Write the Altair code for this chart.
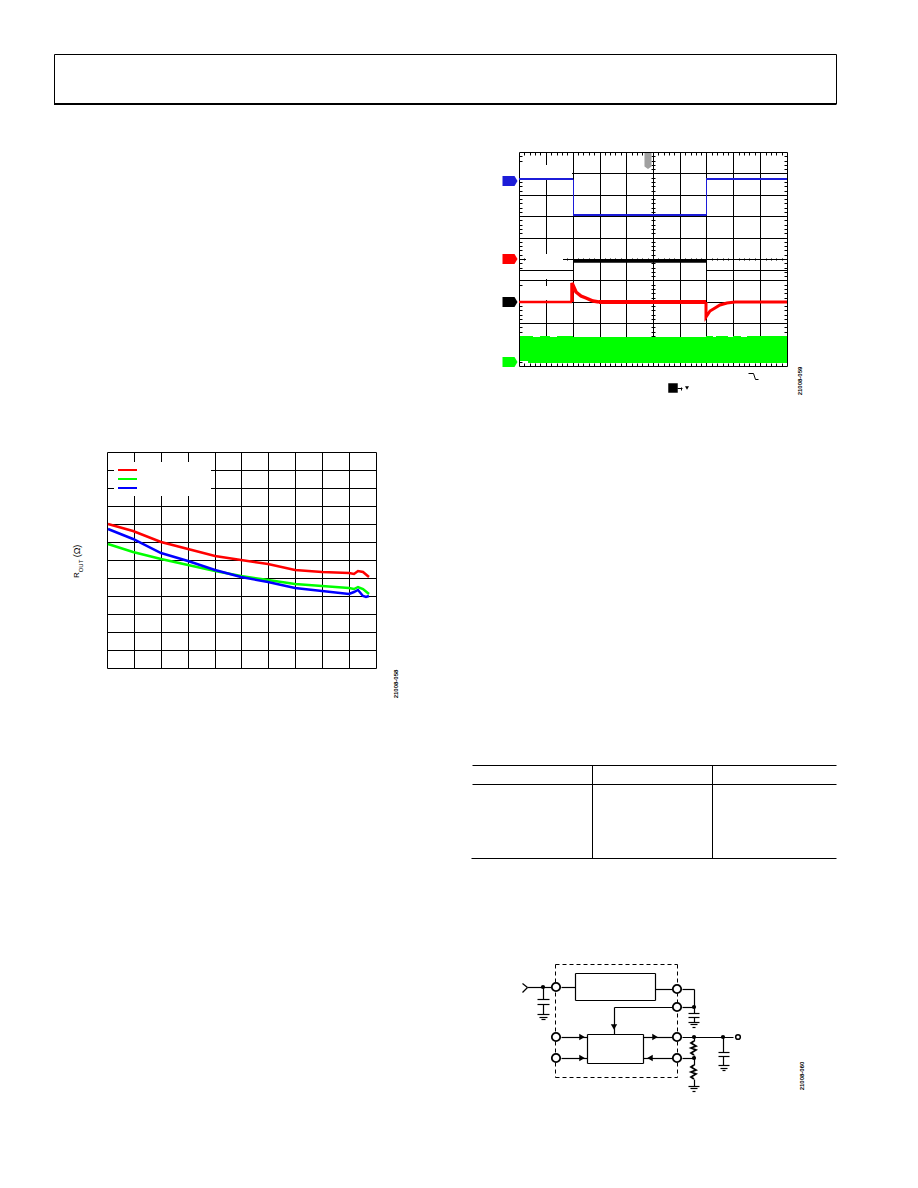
import altair as alt
import pandas as pd

FONT = "Liberation Sans"

# ---- R_OUT line chart values
red_x = [0.04, 0.97, 2.01, 3.01, 4.01, 4.98, 5.99, 6.99, 7.99, 9.0, 9.18, 9.34, 9.52, 9.76]
red_y = [8.0, 7.59, 7.0, 6.61, 6.22, 6.0, 5.76, 5.46, 5.33, 5.30, 5.22, 5.37, 5.31, 5.07]
green_x = [0.04, 0.97, 2.01, 3.01, 4.01, 4.98, 5.99, 6.99, 7.99, 9.0, 9.18, 9.34, 9.52, 9.76]
green_y = [6.91, 6.44, 6.04, 5.70, 5.41, 5.09, 4.89, 4.67, 4.57, 4.43, 4.39, 4.48, 4.37, 4.09]
blue_x = [0.04, 0.97, 2.01, 3.01, 4.01, 4.98, 5.99, 6.99, 7.99, 9.0, 9.18, 9.34, 9.52, 9.64, 9.76]
blue_y = [7.72, 7.17, 6.37, 5.93, 5.43, 5.07, 4.78, 4.44, 4.28, 4.13, 4.24, 4.31, 4.02, 3.93, 4.0]
legend_y = [10.98, 10.48, 10.02]
line_colors = ["#ff0000", "#00ff00", "#0000ff"]

# ---- scope grid and trace values (divisions)
scope_vlines = [0, 1, 2, 3.02, 4, 5, 6, 6.98, 8, 9, 10]
scope_hlines = [0, 1, 2, 3, 4, 5, 6, 7, 8, 9, 10]
blue_high, blue_low = 8.74, 7.06
black_high, black_low = 4.9, 4.47
sc_red_flat_x = [0, 1.99]
sc_red_flat_y = [3.0, 3.0]
sc_red_left_x = [1.99, 1.99, 2.14, 2.32, 2.5, 2.75, 3.0]
sc_red_left_y = [3.0, 3.89, 3.48, 3.28, 3.16, 3.06, 3.0]
sc_red_mid_x = [3.0, 6.98]
sc_red_mid_y = [3.0, 3.0]
sc_red_right_x = [6.98, 6.98, 7.12, 7.3, 7.5, 7.75, 8.06, 10]
sc_red_right_y = [3.0, 2.31, 2.58, 2.73, 2.86, 2.94, 3.0, 3.0]
sc_green_x = [0.04, 0.35, 0.52, 0.77, 1.15, 1.4, 2.0, 6.98, 7.25, 7.35, 7.8, 8.0, 8.3, 8.5, 10]
sc_green_top = [1.40, 1.40, 1.37, 1.40, 1.37, 1.40, 1.37, 1.40, 1.37, 1.40, 1.37, 1.40, 1.37, 1.40, 1.40]
sc_green_bot = [0.23, 0.13, 0.13, 0.13, 0.13, 0.13, 0.13, 0.13, 0.13, 0.13, 0.13, 0.13, 0.13, 0.13, 0.13]

# ---- table column / row rules
table_cols = [1, 2]
table_rows = [0, 1, 5]

# ---- schematic wires, in schematic units
wires = [
    (35, 83, 50, 97), (50, 97, 35, 110), (50, 97, 122, 97),
    (99, 97, 99, 132), (82, 132, 117, 132), (82, 147, 117, 147), (99, 147, 99, 178),
    (82, 178, 117, 178), (88, 185, 110, 185), (94, 192, 104, 192),
    (152, 97, 196, 97), (434, 101, 487, 101), (517, 101, 551, 101), (551, 101, 551, 175),
    (517, 156, 551, 156), (534, 175, 568, 175), (534, 187, 568, 187), (551, 187, 551, 201),
    (534, 201, 568, 201), (540, 208, 562, 208), (546, 215, 556, 215),
    (487, 156, 313, 156), (313, 156, 313, 238),
    (152, 247, 232, 247), (152, 308, 232, 308), (398, 247, 487, 247), (398, 308, 487, 308),
    (517, 247, 670, 247), (517, 308, 551, 308), (551, 247, 551, 258), (551, 300, 551, 330),
    (551, 372, 551, 393), (534, 393, 568, 393), (540, 400, 562, 400), (546, 407, 556, 407),
    (640, 247, 640, 290), (623, 290, 657, 290), (623, 303, 657, 303), (640, 303, 640, 331),
    (623, 331, 657, 331), (629, 338, 651, 338), (635, 345, 645, 345),
    (196, 55, 434, 55), (196, 135, 434, 135), (196, 55, 196, 135), (434, 55, 434, 135),
    (232, 238, 398, 238), (232, 323, 398, 323), (232, 238, 232, 323), (398, 238, 398, 323),
]
dashed_box = [(135, 28, 502, 28), (135, 367, 502, 367), (135, 28, 135, 367), (502, 28, 502, 367)]
res_x = [551, 544, 558, 544, 558, 544, 551]
res_upper_y = [258, 265, 272, 279, 286, 293, 300]
res_lower_y = [330, 337, 344, 351, 358, 365, 372]
pins_x = [137, 502, 502, 137, 137, 502, 502]
pins_y = [97, 101, 156, 247, 308, 247, 308]
dots_x = [99, 551, 551, 640, 551]
dots_y = [97, 156, 247, 247, 308]


def segs(rows, sx, sy, color="black", width=1, dash=None, offset=True):
    df = pd.DataFrame(rows, columns=["a", "b", "a2", "b2"])
    kw = dict(color=color, strokeWidth=width)
    if dash:
        kw["strokeDash"] = dash
    if offset:
        kw.update(xOffset=0.5, x2Offset=0.5, yOffset=0.5, y2Offset=0.5)
    return alt.Chart(df).mark_rule(**kw).encode(
        x=alt.X("a:Q", scale=sx, axis=None), x2="a2:Q",
        y=alt.Y("b:Q", scale=sy, axis=None), y2="b2:Q")


def line(xs, ys, sx, sy, color, width=2.5):
    df = pd.DataFrame({"a": xs, "b": ys})
    return alt.Chart(df).mark_line(color=color, strokeWidth=width, strokeJoin="miter").encode(
        x=alt.X("a:Q", scale=sx, axis=None, sort=None), y=alt.Y("b:Q", scale=sy, axis=None),
        order="i:Q").transform_window(i="row_number()")


def box(rows, sx, sy, color="white"):
    df = pd.DataFrame(rows, columns=["a", "b", "a2", "b2"])
    return alt.Chart(df).mark_rect(color=color, strokeWidth=0).encode(
        x=alt.X("a:Q", scale=sx, axis=None), x2="a2:Q",
        y=alt.Y("b:Q", scale=sy, axis=None), y2="b2:Q")


def label(txt, xv, yv, sx, sy, size=6, angle=270, weight="bold"):
    df = pd.DataFrame({"a": [xv], "b": [yv], "t": [txt]})
    return alt.Chart(df).mark_text(font=FONT, fontSize=size, angle=angle, align="center",
                                   baseline="middle", color="#000000", fontWeight=weight).encode(
        x=alt.X("a:Q", scale=sx, axis=None), y=alt.Y("b:Q", scale=sy, axis=None), text="t:N")


def pts(xs, ys, sx, sy, shape, size, color="black"):
    df = pd.DataFrame({"a": xs, "b": ys})
    return alt.Chart(df).mark_point(shape=shape, size=size, filled=True, color=color,
                                    opacity=1).encode(
        x=alt.X("a:Q", scale=sx, axis=None), y=alt.Y("b:Q", scale=sy, axis=None))


def rings(xs, ys, sx, sy, size, width):
    df = pd.DataFrame({"a": xs, "b": ys})
    return alt.Chart(df).mark_point(shape="circle", size=size, filled=True, fill="white",
                                    stroke="black", strokeWidth=width, opacity=1).encode(
        x=alt.X("a:Q", scale=sx, axis=None), y=alt.Y("b:Q", scale=sy, axis=None))


# ---- page header frame
hx = alt.Scale(domain=[0, 1], range=[46, 828], round=True)
hy = alt.Scale(domain=[0, 1], range=[46, 96], round=True)
header = alt.layer(
    segs([(0, 0, 1, 0), (0, 0, 0, 1), (1, 0, 1, 1)], hx, hy),
    segs([(0, 1, 1, 1)], hx, hy, width=2, offset=False),
)

# ---- line chart
lx = alt.Scale(domain=[0, 10], range=[99, 367.9], round=True)
ly = alt.Scale(domain=[0, 12], range=[660, 444], round=True)
l_grid = [(v, 0, v, 12) for v in range(11)] + [(0, v, 10, v) for v in range(13)]
legend_x0, legend_x1 = 0.41, 1.13
line_layers = [
    segs(l_grid, lx, ly),
    box([(0.26, 11.43, 3.85, 9.57)], lx, ly),
    line(green_x, green_y, lx, ly, line_colors[1]),
    line(red_x, red_y, lx, ly, line_colors[0]),
    line(blue_x, blue_y, lx, ly, line_colors[2]),
]
for yv, col in zip(legend_y, line_colors):
    line_layers.append(line([legend_x0, legend_x1], [yv, yv], lx, ly, col, width=2))
line_layers += [
    label("R", -1.1, 5.14, lx, ly, size=8, weight="normal"),
    label("OUT", -0.98, 5.68, lx, ly, size=6, weight="normal"),
    label("(Ω)", -1.1, 6.5, lx, ly, size=9, weight="normal"),
    label("21008-058", 10.75, -0.89, lx, ly),
]
linechart = alt.layer(*line_layers)

# ---- oscilloscope
sx = alt.Scale(domain=[0, 10], range=[511, 779], round=True)
sy = alt.Scale(domain=[0, 10], range=[358, 144], round=True)
s_grid = [(v, 0, v, 10) for v in scope_vlines] + [(0, v, 10, v) for v in scope_hlines]
ticks = []
for k in range(51):
    t = k / 5
    if k % 5:
        ticks += [(t, 10, t, 9.87), (t, 0, t, 0.13), (t, 4.93, t, 5.07)]
        ticks += [(0, t, 0.11, t), (10, t, 9.89, t), (4.94, t, 5.06, t)]
masks = [
    (0.04, 9.39, 1.96, 8.74),
    (0.25, 5.23, 1.65, 4.5),
    (0.04, 4.5, 1.96, 4.05),
    (0.04, 3.75, 1.96, 3.07),
]
green_df = pd.DataFrame({"a": sc_green_x, "b": sc_green_top, "b2": sc_green_bot})
green_area = alt.Chart(green_df).mark_area(color="#00ff00", interpolate="step-after", opacity=1).encode(
    x=alt.X("a:Q", scale=sx, axis=None), y=alt.Y("b:Q", scale=sy, axis=None), y2="b2:Q")
PENT = "M-1,-0.67 L0.6,-0.67 L1,0 L0.6,0.67 L-1,0.67 Z"
TRIG = "M-0.44,-1 L0.44,-1 L0.44,0.7 L0,1 L-0.44,0.7 Z"
scope = alt.layer(
    segs(s_grid, sx, sy),
    segs(ticks, sx, sy),
    box(masks, sx, sy),
    pts([4.83], [9.6], sx, sy, TRIG, 256, color="#a0a0a0"),
    segs([(0, black_low, 2, black_low), (6.98, black_low, 10, black_low),
          (2, black_low, 2, black_high), (6.98, black_low, 6.98, black_high)], sx, sy),
    segs([(2, black_high, 6.98, black_high)], sx, sy, width=3.5, offset=False),
    segs([(0, blue_high, 2, blue_high), (6.98, blue_high, 10, blue_high), (2, blue_low, 6.98, blue_low)],
         sx, sy, color="#1c1cd8", width=2, offset=False),
    segs([(2, blue_high, 2, blue_low), (6.98, blue_high, 6.98, blue_low)], sx, sy, color="#1c1cd8"),
    line(sc_red_flat_x, sc_red_flat_y, sx, sy, "#ff0000", width=2.5),
    line(sc_red_left_x, sc_red_left_y, sx, sy, "#ff0000", width=3.5),
    line(sc_red_mid_x, sc_red_mid_y, sx, sy, "#ff0000", width=4),
    line(sc_red_right_x, sc_red_right_y, sx, sy, "#ff0000", width=3),
    green_area,
    pts([-0.34], [8.64], sx, sy, PENT, 225, color="#1c1cd8"),
    pts([-0.34], [5.0], sx, sy, PENT, 225, color="#ff0000"),
    pts([-0.34], [2.97], sx, sy, PENT, 225, color="black"),
    pts([-0.34], [0.19], sx, sy, PENT, 225, color="#00ff00"),
    segs([(8.53, -0.34, 8.72, -0.34), (8.72, -0.34, 8.79, -0.62), (8.79, -0.62, 8.90, -0.62)], sx, sy),
    pts([5.75], [-1.03], sx, sy, "square", 90),
    segs([(5.9, -1.03, 6.08, -1.03), (6.03, -0.96, 6.03, -1.1)], sx, sy),
    pts([6.28], [-1.05], sx, sy, "triangle-down", 16),
    label("21008-059", 10.5, -0.7, sx, sy),
)

# ---- table
tx = alt.Scale(domain=[0, 3], range=[464, 824], round=True)
ty = alt.Scale(domain=[0, 5], range=[757, 850], round=True)
table_segs = [(c, 0, c, 5) for c in table_cols]
table_segs += [(0, r, 3.035, r) for r in table_rows[:2]] + [(-0.005, table_rows[2], 3.035, table_rows[2])]
table = segs(table_segs, tx, ty)

# ---- schematic
cx = alt.Scale(domain=[0, 900], range=[502, 802], round=True)
cy = alt.Scale(domain=[0, 435], range=[947, 1092], round=True)
circuit = alt.layer(
    segs(wires, cx, cy, width=1.2),
    segs(dashed_box, cx, cy, dash=[4, 3]),
    line(res_x, res_upper_y, cx, cy, "black", width=1.8),
    line(res_x, res_lower_y, cx, cy, "black", width=1.8),
    rings(pins_x, pins_y, cx, cy, 70, 1.8),
    rings([685], [247], cx, cy, 22, 1.5),
    pts(dots_x, dots_y, cx, cy, "circle", 18),
    pts([215, 215, 435], [247, 308, 247], cx, cy, "triangle-right", 40),
    pts([420], [308], cx, cy, "triangle-left", 40),
    pts([312], [215], cx, cy, "triangle-down", 40),
    label("21008-060", 875, 362, cx, cy),
)

chart = alt.layer(header, linechart, scope, table, circuit).resolve_scale(
    x="independent", y="independent"
).properties(
    width=902, height=1172, padding=0,
    autosize=alt.AutoSizeParams(type="none"),
).configure_view(stroke=None)

chart.save("out.html", embed_options={"renderer": "svg", "actions": False})
